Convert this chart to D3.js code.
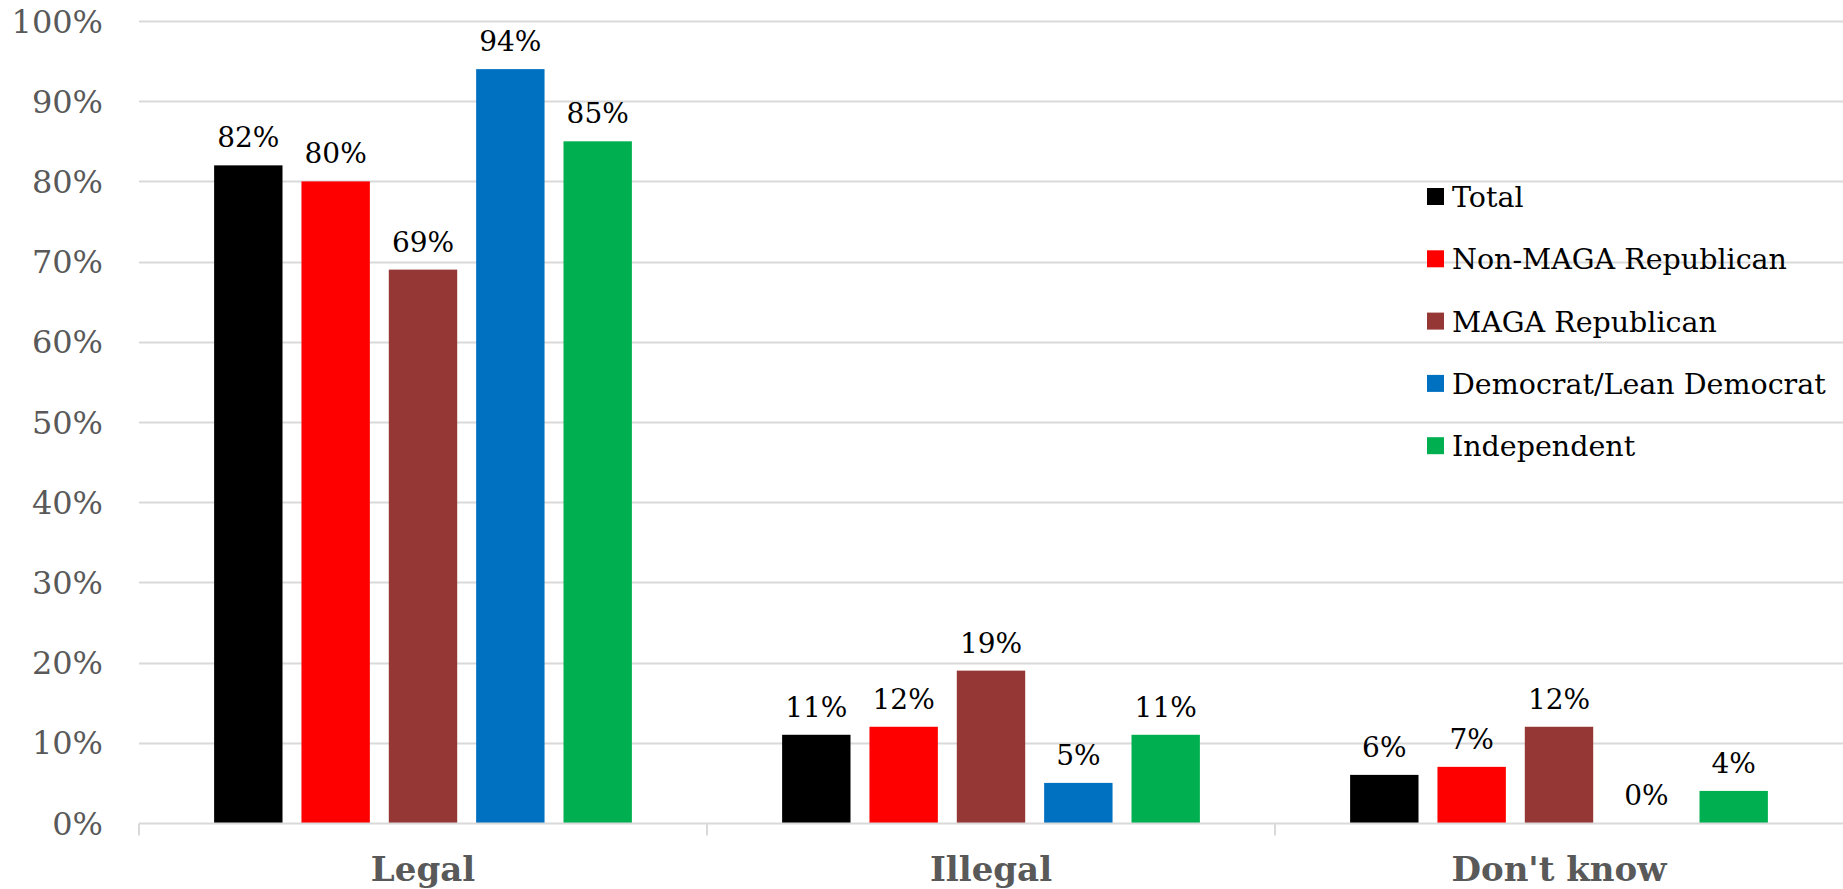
<!DOCTYPE html>
<html>
<head>
<meta charset="utf-8">
<script src="https://cdn.jsdelivr.net/npm/d3@7"></script>
<style>
  html, body { margin: 0; padding: 0; background: #fff; }
  svg { display: block; }
</style>
</head>
<body>
<svg id="chart" width="1843" height="889"></svg>
<script>
const categories = ["Legal", "Illegal", "Don't know"];
const seriesNames = ["Total", "Non-MAGA Republican", "MAGA Republican", "Democrat/Lean Democrat", "Independent"];
const seriesColors = ["#000000", "#FF0000", "#953735", "#0070C0", "#00B050"];
const totalValues = [82, 11, 6];
const nonMagaValues = [80, 12, 7];
const magaValues = [69, 19, 12];
const democratValues = [94, 5, 0];
const independentValues = [85, 11, 4];
const yTicks = [0, 10, 20, 30, 40, 50, 60, 70, 80, 90, 100];

const seriesValues = [totalValues, nonMagaValues, magaValues, democratValues, independentValues];

const W = 1843, H = 889;
const margin = { left: 139, right: 0, top: 21, bottom: 65 };
const svg = d3.select("#chart");
const FONT = "'DejaVu Serif', 'Liberation Serif', serif";

const x0 = d3.scaleBand().domain(categories).range([margin.left, W - margin.right]).paddingInner(0).paddingOuter(0);
const x1 = d3.scaleBand().domain(seriesNames).range([0, x0.bandwidth()]).paddingInner(0.217).paddingOuter(0.86);
const y = d3.scaleLinear().domain([0, 100]).range([H - margin.bottom - 1, margin.top]);

// gridlines
svg.append("g").selectAll("line").data(yTicks.filter(d => d > 0)).join("line")
  .attr("x1", margin.left).attr("x2", W - margin.right)
  .attr("y1", d => Math.round(y(d)) + 0.5).attr("y2", d => Math.round(y(d)) + 0.5)
  .attr("stroke", "#d9d9d9").attr("stroke-width", 2);

// y tick labels
svg.append("g").selectAll("text").data(yTicks).join("text")
  .attr("x", 103).attr("y", d => y(d)).attr("dy", "0.36em")
  .attr("text-anchor", "end")
  .attr("font-family", FONT).attr("font-size", 32).attr("fill", "#595959")
  .text(d => d + "%");

// bars
const groups = svg.append("g").selectAll("g").data(categories).join("g")
  .attr("transform", c => `translate(${x0(c)},0)`);

groups.each(function(c, ci) {
  const g = d3.select(this);
  const rows = seriesNames.map((s, si) => ({ s, si, v: seriesValues[si][ci] }));
  g.selectAll("rect").data(rows).join("rect")
    .attr("x", d => x1(d.s)).attr("width", x1.bandwidth())
    .attr("y", d => y(d.v)).attr("height", d => y(0) - y(d.v))
    .attr("fill", d => seriesColors[d.si]);
  g.selectAll("text").data(rows).join("text")
    .attr("x", d => x1(d.s) + x1.bandwidth() / 2)
    .attr("y", d => y(d.v) - 18)
    .attr("text-anchor", "middle")
    .attr("font-family", FONT).attr("font-size", 28).attr("fill", "#000")
    .text(d => d.v + "%");
});

// x axis line
const y0 = Math.round(y(0)) + 0.5;
svg.append("line").attr("x1", margin.left).attr("x2", W - margin.right)
  .attr("y1", y0).attr("y2", y0).attr("stroke", "#d9d9d9").attr("stroke-width", 2);
// category boundary ticks
const bounds = categories.map(c => x0(c));
svg.append("g").selectAll("line").data(bounds).join("line")
  .attr("x1", d => d).attr("x2", d => d)
  .attr("y1", y0).attr("y2", y0 + 12)
  .attr("stroke", "#d9d9d9").attr("stroke-width", 2);

// category labels
svg.append("g").selectAll("text").data(categories).join("text")
  .attr("x", c => x0(c) + x0.bandwidth() / 2).attr("y", 881)
  .attr("text-anchor", "middle")
  .attr("font-family", FONT).attr("font-size", 34).attr("font-weight", "bold").attr("fill", "#595959")
  .text(c => c);

// legend
const legend = svg.append("g").attr("transform", "translate(1427,188)");
const li = legend.selectAll("g").data(seriesNames).join("g")
  .attr("transform", (d, i) => `translate(0,${i * 62.3})`);
li.append("rect").attr("width", 17).attr("height", 17).attr("fill", (d, i) => seriesColors[i]);
li.append("text").attr("x", 25).attr("y", 19)
  .attr("font-family", FONT).attr("font-size", 28.5).attr("fill", "#000")
  .text(d => d);
</script>
</body>
</html>
